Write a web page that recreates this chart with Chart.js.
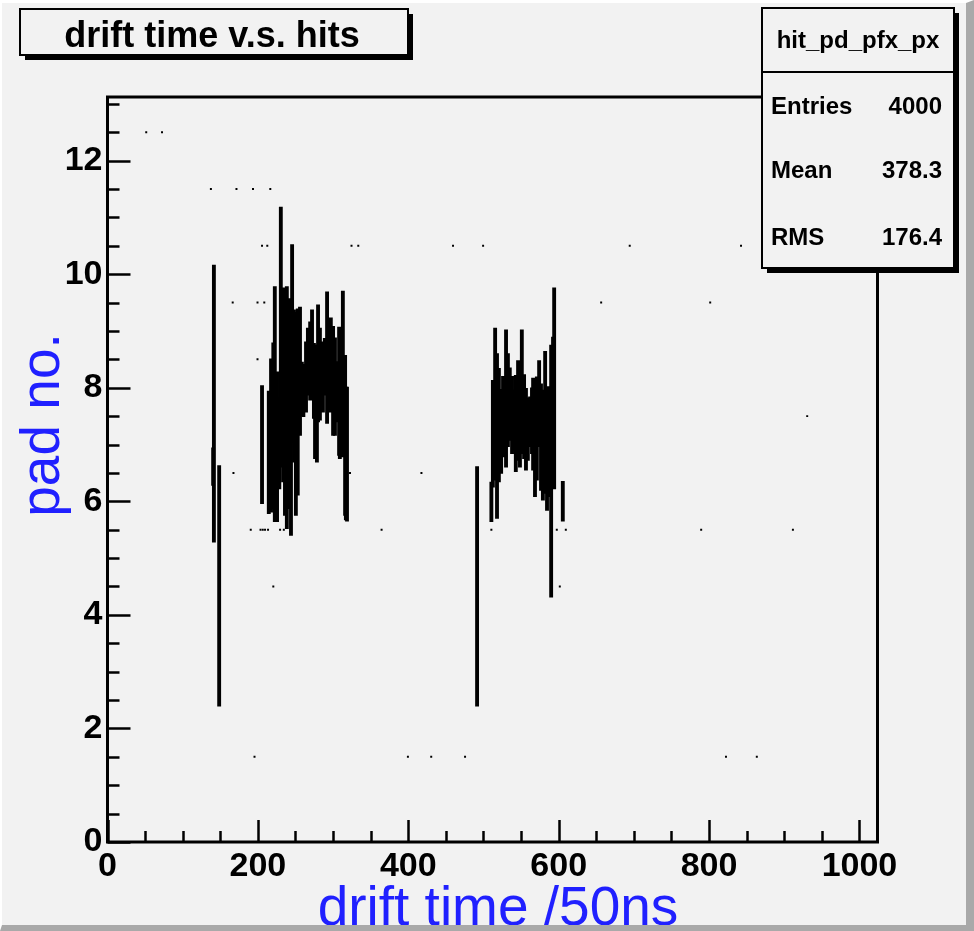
<!DOCTYPE html>
<html>
<head>
<meta charset="utf-8">
<script src="https://cdn.jsdelivr.net/npm/chart.js@4.4.1/dist/chart.umd.min.js"></script>
<style>
  html, body { margin: 0; padding: 0; background: #f2f2f2; }
  #wrap { width: 974px; height: 931px; position: relative; }
  canvas { display: block; }
</style>
</head>
<body>
<div id="wrap"><canvas id="c" width="974" height="931"></canvas></div>
<script>
// Profile of pad number vs drift time (hit_pd_pfx_px)
// Bins that hold several hits: bin centre, mean pad, error on the mean
const binX = [
  140.5, 141.5, 148.5,
  205.5, 214.5, 217.5, 220.5, 222.5, 225.5, 228.5, 230.5, 233.5, 236.0,
  238.5, 241.5, 244.0, 245.5, 248.0, 250.5, 253.0, 254.0, 256.0, 258.5,
  260.5, 264.0, 266.5, 269.5, 272.0, 274.5, 276.0, 278.5, 280.0, 282.5,
  285.0, 286.5, 289.0, 292.0, 294.5, 297.0, 300.0, 302.5, 305.0, 308.0,
  309.0, 313.0, 316.0, 317.0, 318.5,
  491.5,
  510.5, 512.5, 515.5, 518.0, 520.5, 523.5, 526.0, 528.5, 530.0, 532.5,
  535.0, 538.0, 540.5, 543.0, 546.0, 548.5, 551.0, 554.0, 556.5, 559.0,
  562.0, 564.5, 566.0, 568.5, 571.0, 574.0, 576.5, 579.0, 582.0, 584.5,
  587.0, 590.0, 592.5, 594.0, 605.5
];
const binMean = [
  6.61, 7.72, 4.51,
  7.00, 6.86, 7.16, 7.33, 7.71, 6.96, 7.02, 8.89, 8.05, 7.57,
  7.65, 7.72, 7.34, 8.78, 8.03, 7.54, 7.75, 8.30, 8.29, 7.98,
  7.95, 8.19, 8.46, 8.47, 8.68, 8.12, 7.75, 7.72, 8.43, 8.24,
  8.22, 8.19, 8.37, 8.53, 8.41, 8.40, 8.12, 8.02, 7.93, 7.94,
  7.87, 8.24, 7.16, 6.84, 6.83,
  4.50,
  5.99, 7.19, 7.71, 7.15, 7.34, 7.23, 7.52, 7.49, 7.81, 7.78,
  7.71, 7.52, 7.43, 7.37, 7.60, 7.47, 7.93, 7.49, 7.27, 7.27,
  7.40, 7.42, 7.36, 6.98, 7.28, 7.72, 7.13, 6.99, 7.39, 6.92,
  7.05, 6.53, 7.57, 7.99, 6.00
];
const binErr = [
  0.33, 2.44, 2.12,
  1.04, 1.08, 1.35, 1.46, 2.07, 1.32, 0.80, 2.29, 1.71, 1.82,
  2.13, 1.85, 1.94, 1.74, 1.34, 1.79, 1.64, 1.02, 1.13, 0.47,
  0.46, 0.62, 0.59, 0.69, 0.69, 0.66, 1.00, 1.03, 1.03, 0.81,
  0.47, 0.62, 0.50, 1.16, 0.66, 0.83, 0.96, 0.86, 0.53, 1.13,
  1.12, 1.46, 1.41, 1.17, 1.18,
  2.11,
  0.35, 0.94, 1.34, 1.45, 1.00, 0.74, 0.68, 0.71, 1.21, 0.82,
  0.64, 0.68, 0.53, 0.85, 0.88, 0.87, 1.09, 0.74, 0.72, 0.55,
  0.44, 0.58, 0.81, 0.90, 0.91, 0.76, 0.94, 0.97, 1.25, 1.08,
  0.97, 2.22, 1.32, 1.77, 0.35
];

// Bins holding a single hit (no spread, drawn as a dot)
const oneX = [
  51.5, 72.5,
  137.5, 171.5, 193.5, 216.5,
  205.5, 212.5, 324.5, 333.5, 459.5, 499.5, 694.5, 842.5,
  166.5, 199.5, 208.5, 656.5, 801.5,
  199.5,
  930.5,
  167.5, 322.5, 417.5,
  140.5, 190.5, 203.5, 206.5, 209.5, 213.5, 229.5, 234.5, 364.5, 510.5, 597.5, 609.5, 789.5, 911.5,
  220.5, 601.5,
  195.5, 399.5, 430.5, 475.5, 822.5, 863.5
];
const oneY = [
  12.5, 12.5,
  11.5, 11.5, 11.5, 11.5,
  10.5, 10.5, 10.5, 10.5, 10.5, 10.5, 10.5, 10.5,
  9.5, 9.5, 9.5, 9.5, 9.5,
  8.5,
  7.5,
  6.5, 6.5, 6.5,
  5.5, 5.5, 5.5, 5.5, 5.5, 5.5, 5.5, 5.5, 5.5, 5.5, 5.5, 5.5, 5.5, 5.5,
  4.5, 4.5,
  1.5, 1.5, 1.5, 1.5, 1.5, 1.5
];

const xTickValues = [0, 200, 400, 600, 800, 1000];
const yTickValues = [0, 2, 4, 6, 8, 10, 12];

const histTitle = 'drift time v.s. hits';
const statName = 'hit_pd_pfx_px';
const statLabels = ['Entries', 'Mean', 'RMS'];
const statValues = ['4000', '378.3', '176.4'];
const xTitle = 'drift time /50ns';
const yTitle = 'pad no.';

const X_MIN = 0, X_MAX = 1024, Y_MIN = 0, Y_MAX = 13.12;
const BG = '#f2f2f2';
const FONT = '"Liberation Sans", Arial, Helvetica, sans-serif';

const errBars = binX.map((x, i) => ({ x: x, y: [binMean[i] - binErr[i], binMean[i] + binErr[i]] }));
const dots = oneX.map((x, i) => ({ x: x, y: oneY[i] }));

// Canvas background, bevelled border, frame, inward ticks, titles and stats box
const decor = {
  id: 'decor',
  beforeDraw(chart) {
    const ctx = chart.ctx;
    ctx.save();
    ctx.fillStyle = BG;
    ctx.fillRect(0, 0, chart.width, chart.height);
    ctx.restore();
  },
  afterDatasetsDraw(chart) {
    const ctx = chart.ctx;
    const a = chart.chartArea;
    const xs = chart.scales.x, ys = chart.scales.y;
    ctx.save();
    ctx.strokeStyle = '#000';
    ctx.lineWidth = 2.5;
    ctx.lineCap = 'butt';
    // y ticks
    for (let v = 0; v <= Y_MAX + 1e-9; v += 0.5) {
      const p = Math.round(ys.getPixelForValue(v)) + 0.5;
      const major = Math.abs(v - Math.round(v / 2) * 2) < 1e-9;
      const len = major ? 23 : 12;
      ctx.beginPath(); ctx.moveTo(a.left, p); ctx.lineTo(a.left + len, p); ctx.stroke();
    }
    // x ticks
    for (let v = 0; v <= X_MAX; v += 50) {
      const p = Math.round(xs.getPixelForValue(v)) + 0.5;
      const major = v % 200 === 0;
      const len = major ? 22 : 11;
      ctx.beginPath(); ctx.moveTo(p, a.bottom); ctx.lineTo(p, a.bottom - len); ctx.stroke();
    }
    // frame
    ctx.lineWidth = 3;
    ctx.strokeRect(a.left, a.top, a.right - a.left, a.bottom - a.top);
    ctx.restore();
  },
  afterDraw(chart) {
    const ctx = chart.ctx;
    ctx.save();
    // axis titles
    ctx.fillStyle = '#2020ff';
    ctx.font = '55px ' + FONT;
    ctx.textAlign = 'center';
    ctx.textBaseline = 'alphabetic';
    ctx.fillText(xTitle, 498, 925);
    ctx.save();
    ctx.translate(59, 425);
    ctx.rotate(-Math.PI / 2);
    ctx.fillText(yTitle, 0, 0);
    ctx.restore();

    // title box with shadow
    ctx.fillStyle = '#000';
    ctx.fillRect(25, 14, 388, 46);
    ctx.fillStyle = BG;
    ctx.fillRect(20, 9, 388, 46);
    ctx.strokeStyle = '#000';
    ctx.lineWidth = 2;
    ctx.strokeRect(20, 9, 388, 46);
    ctx.fillStyle = '#000';
    ctx.font = 'bold 36px ' + FONT;
    ctx.textAlign = 'center';
    ctx.fillText(histTitle, 212, 47);

    // stats box with shadow
    const sx = 762, sy = 8, sw = 192, sh = 260;
    ctx.fillStyle = '#000';
    ctx.fillRect(sx + 5, sy + 5, sw, sh);
    ctx.fillStyle = BG;
    ctx.fillRect(sx, sy, sw, sh);
    ctx.lineWidth = 2;
    ctx.strokeRect(sx, sy, sw, sh);
    ctx.beginPath(); ctx.moveTo(sx, 72); ctx.lineTo(sx + sw, 72); ctx.stroke();
    ctx.fillStyle = '#000';
    ctx.font = 'bold 24px ' + FONT;
    ctx.textBaseline = 'middle';
    ctx.textAlign = 'center';
    ctx.fillText(statName, sx + sw / 2, 41);
    const rowsY = [107, 171, 238];
    statLabels.forEach((lab, i) => {
      ctx.textAlign = 'left';
      ctx.fillText(lab, 771, rowsY[i]);
      ctx.textAlign = 'right';
      ctx.fillText(statValues[i], 942, rowsY[i]);
    });

    // bevelled canvas border
    ctx.fillStyle = '#ffffff';
    ctx.fillRect(0, 0, chart.width, 3);
    ctx.fillRect(0, 0, 2, chart.height);
    ctx.fillStyle = '#a9a9a9';
    ctx.beginPath();
    ctx.moveTo(chart.width, 0); ctx.lineTo(chart.width, chart.height); ctx.lineTo(0, chart.height);
    ctx.lineTo(2, chart.height - 6); ctx.lineTo(chart.width - 8, chart.height - 6); ctx.lineTo(chart.width - 8, 3);
    ctx.closePath(); ctx.fill();
    ctx.restore();
  }
};

new Chart(document.getElementById('c'), {
  type: 'bar',
  data: {
    datasets: [
      {
        type: 'bar',
        data: errBars,
        backgroundColor: '#000',
        borderWidth: 0,
        barThickness: 3.2,
        grouped: false
      },
      {
        type: 'scatter',
        data: dots,
        backgroundColor: '#000',
        borderWidth: 0,
        pointStyle: 'rect',
        pointRadius: 1.4,
        showLine: false
      }
    ]
  },
  options: {
    responsive: false,
    animation: false,
    devicePixelRatio: 1,
    layout: { padding: { top: 97, right: 96.5, left: 0, bottom: 0 } },
    plugins: { legend: { display: false }, tooltip: { enabled: false }, title: { display: false } },
    scales: {
      x: {
        type: 'linear',
        min: X_MIN, max: X_MAX,
        offset: false,
        grid: { display: false, drawTicks: false },
        border: { display: false },
        afterFit(s) { s.height = 89; },
        afterBuildTicks(s) { s.ticks = xTickValues.map(v => ({ value: v })); },
        ticks: {
          autoSkip: false, maxRotation: 0, padding: 4, color: '#000',
          font: { family: FONT, weight: 'bold', size: 34 },
          callback: v => String(v)
        }
      },
      y: {
        type: 'linear',
        min: Y_MIN, max: Y_MAX,
        grid: { display: false, drawTicks: false },
        border: { display: false },
        afterFit(s) { s.width = 107.5; },
        afterBuildTicks(s) { s.ticks = yTickValues.map(v => ({ value: v })); },
        ticks: {
          autoSkip: false, padding: 5, color: '#000',
          font: { family: FONT, weight: 'bold', size: 34 },
          callback: v => String(v)
        }
      }
    }
  },
  plugins: [decor]
});
</script>
</body>
</html>
